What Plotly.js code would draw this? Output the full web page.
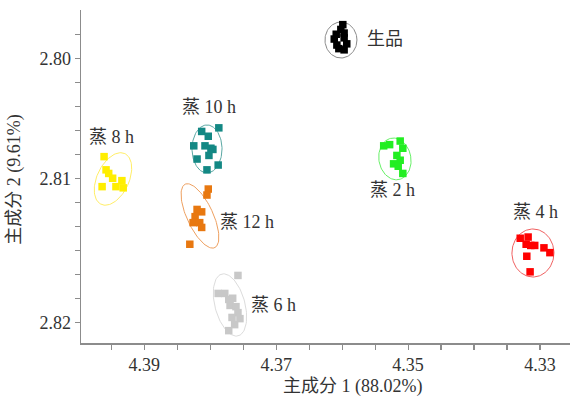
<!DOCTYPE html>
<html>
<head>
<meta charset="utf-8">
<script src="https://cdn.plot.ly/plotly-3.0.1.min.js"></script>
<style>html,body{margin:0;padding:0;background:#fff;}#chart{width:572px;height:399px;}</style>
</head>
<body>
<div id="chart"></div>
<script>
// ---- data ----
const groups = ["生品", "蒸 2 h", "蒸 4 h", "蒸 6 h", "蒸 8 h", "蒸 10 h", "蒸 12 h"];

const raw_x   = [4.3599, 4.3602, 4.3609, 4.3597, 4.3612, 4.3597, 4.3608, 4.3593, 4.3605, 4.3597];
const raw_y   = [2.7972, 2.7976, 2.7980, 2.7979, 2.7984, 2.7983, 2.7989, 2.7988, 2.7992, 2.7993];

const h2_x    = [4.3537, 4.3528, 4.3512, 4.3508, 4.3517, 4.3512, 4.3522, 4.3515, 4.3508];
const h2_y    = [2.8073, 2.8072, 2.8069, 2.8075, 2.8081, 2.8085, 2.8088, 2.8090, 2.8096];

const h4_x    = [4.3330, 4.3318, 4.3321, 4.3314, 4.3308, 4.3294, 4.3285, 4.3320, 4.3315];
const h4_y    = [2.8150, 2.8149, 2.8155, 2.8156, 2.8156, 2.8158, 2.8162, 2.8165, 2.8178];

const h6_x    = [4.3758, 4.3788, 4.3778, 4.3772, 4.3766, 4.3770, 4.3761, 4.3758, 4.3767, 4.3755, 4.3763, 4.3772];
const h6_y    = [2.8181, 2.8196, 2.8196, 2.8201, 2.8200, 2.8206, 2.8207, 2.8212, 2.8216, 2.8217, 2.8222, 2.8227];

const h8_x    = [4.3961, 4.3958, 4.3954, 4.3964, 4.3948, 4.3943, 4.3934, 4.3932];
const h8_y    = [2.8082, 2.8093, 2.8096, 2.8107, 2.8100, 2.8107, 2.8102, 2.8108];

const h10_x   = [4.3787, 4.3813, 4.3803, 4.3825, 4.3808, 4.3799, 4.3796, 4.3802, 4.3820, 4.3788, 4.3805];
const h10_y   = [2.8058, 2.8061, 2.8065, 2.8073, 2.8073, 2.8075, 2.8076, 2.8081, 2.8084, 2.8089, 2.8093];

const h12_x   = [4.3803, 4.3805, 4.3820, 4.3813, 4.3823, 4.3826, 4.3816, 4.3813, 4.3831];
const h12_y   = [2.8109, 2.8114, 2.8126, 2.8128, 2.8132, 2.8137, 2.8137, 2.8141, 2.8155];

// tick labels (the reference's y labels are not evenly spaced)
const xTickVals  = [4.395, 4.39, 4.385, 4.38, 4.375, 4.37, 4.365, 4.36, 4.355, 4.35, 4.345, 4.34, 4.335, 4.33];
const xTickText  = ["", "4.39", "", "", "", "4.37", "", "", "", "4.35", "", "", "", "4.33"];
const yTickVals  = [2.798, 2.800, 2.802, 2.804, 2.806, 2.808, 2.810, 2.812, 2.814, 2.816, 2.818, 2.820, 2.822];
const yTickText  = ["", "2.80", "", "", "", "", "2.81", "", "", "", "", "", "2.82"];

// ---- presentation ----
const seriesX = [raw_x, h2_x, h4_x, h6_x, h8_x, h10_x, h12_x];
const seriesY = [raw_y, h2_y, h4_y, h6_y, h8_y, h10_y, h12_y];
const markerColors = ["#000000", "#22ee22", "#ff0000", "#c8c8c8", "#ffee00", "#138884", "#e87810"];
const ellipseColors = ["#8a8a8a", "#66f066", "#f06060", "#dcdcdc", "#ffee66", "#5aa8a4", "#eea060"];
// ellipse: center (data), semi-axes (px), tilt (deg, clockwise from vertical)
const ellCX = [4.36018, 4.3520, 4.33107, 4.37701, 4.39475, 4.38049, 4.38156];
const ellCY = [2.79848, 2.80839, 2.81623, 2.82056, 2.81006, 2.80756, 2.81314];
const ellA  = [16, 16, 21, 15, 16, 15, 13];
const ellB  = [18, 21, 24, 32, 28, 24, 35];
const ellT  = [0, 10, 0, 15, -25, 0, 25];
// label positions
const labX = [4.35654, 4.3523, 4.33062, 4.37034, 4.39503, 4.38019, 4.37440];
const labY = [2.79839, 2.81098, 2.81281, 2.82056, 2.80656, 2.80406, 2.81364];
const labAnchor = ["left", "center", "center", "center", "center", "center", "center"];

const xRange = [4.39960, 4.32545];
const yRange = [2.82373, 2.79598];
const M = {l: 81, r: 2, t: 10, b: 56};
const W = 572, H = 399;
const kx = (W - M.l - M.r) / Math.abs(xRange[0] - xRange[1]);
const ky = (H - M.t - M.b) / Math.abs(yRange[0] - yRange[1]);

const traces = [];
for (let i = 0; i < groups.length; i++) {
  const ex = [], ey = [];
  const th = ellT[i] * Math.PI / 180;
  for (let j = 0; j <= 100; j++) {
    const t = 2 * Math.PI * j / 100;
    const u = ellA[i] * Math.cos(t), v = ellB[i] * Math.sin(t);
    const dx = u * Math.cos(th) + v * Math.sin(th);
    const dy = -u * Math.sin(th) + v * Math.cos(th);
    ex.push(ellCX[i] - dx / kx);
    ey.push(ellCY[i] + dy / ky);
  }
  traces.push({x: ex, y: ey, mode: "lines", line: {color: ellipseColors[i], width: 1}, hoverinfo: "skip", showlegend: false});
}
for (let i = 0; i < groups.length; i++) {
  traces.push({x: seriesX[i], y: seriesY[i], mode: "markers", name: groups[i],
    marker: {symbol: "square", size: 7.5, color: markerColors[i]}, showlegend: false});
}

const fontFam = "Liberation Serif, Noto Sans CJK SC, serif";
const annotations = groups.map((g, i) => ({
  x: labX[i], y: labY[i], xref: "x", yref: "y", text: g, showarrow: false,
  xanchor: labAnchor[i], yanchor: "middle", font: {family: fontFam, size: 18, color: "#333333"}
}));
annotations.push({text: "主成分 1 (88.02%)", xref: "paper", yref: "paper", x: 0.555, y: -0.132,
  xanchor: "center", yanchor: "middle", showarrow: false, font: {family: fontFam, size: 18, color: "#333333"}});
annotations.push({text: "主成分 2 (9.61%)", xref: "paper", yref: "paper", x: -0.135, y: 0.49, textangle: -90,
  xanchor: "center", yanchor: "middle", showarrow: false, font: {family: fontFam, size: 18, color: "#333333"}});

const axisCommon = {showgrid: false, zeroline: false, showline: true, linecolor: "#8c8c8c", linewidth: 1.5,
  ticks: "outside", ticklen: 5, tickwidth: 1.2, tickcolor: "#8c8c8c", tickmode: "array",
  tickfont: {family: fontFam, size: 18, color: "#333333"}};

const layout = {
  width: W, height: H, margin: M, paper_bgcolor: "#ffffff", plot_bgcolor: "#ffffff",
  showlegend: false,
  xaxis: Object.assign({}, axisCommon, {range: xRange, tickvals: xTickVals, ticktext: xTickText, ticklabelstandoff: 0}),
  yaxis: Object.assign({}, axisCommon, {range: yRange, tickvals: yTickVals, ticktext: yTickText}),
  annotations: annotations
};
Plotly.newPlot("chart", traces, layout, {displayModeBar: false, staticPlot: true});
</script>
</body>
</html>
